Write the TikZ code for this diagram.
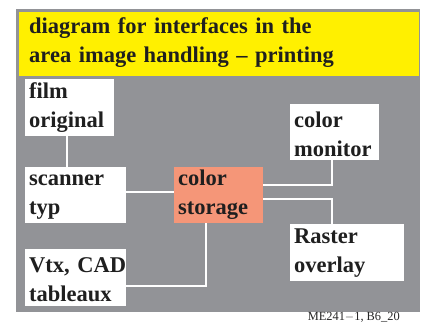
\documentclass[tikz,border=0pt]{standalone}
\usepackage{fontspec}
\setmainfont{Liberation Serif}
\begin{document}
\begin{tikzpicture}[x=1pt,y=-1pt,
  box/.style={draw=none,fill=white,anchor=north west,inner xsep=4pt,inner ysep=0pt,
    align=left,font=\fontsize{22.5}{29}\selectfont\bfseries,text=black!88,
    text height=19pt,text depth=38pt},
  wire/.style={draw=white,line width=1.5pt}]
\useasboundingbox (0,0) rectangle (424,323);
\fill[white] (0,0) rectangle (424,323);
\definecolor{bggray}{RGB}{146,147,151}
\definecolor{ttlyellow}{RGB}{255,240,0}
\definecolor{salmon}{RGB}{245,150,120}
\fill[bggray] (16,9) rectangle (420,312);
\node[fill=ttlyellow,anchor=north west,inner xsep=10pt,inner ysep=0pt,text width=380pt,
  text height=21pt,text depth=43pt,align=left,
  font=\fontsize{22.5}{29}\selectfont\bfseries,text=black!88] (title) at (19,12)
  {diagram for interfaces in the\\area image handling -- printing};
\node[box,text width=81pt] (film) at (25,79) {film\\original};
\node[box,text width=93pt,text height=18pt,text depth=38pt] (scan) at (25,167) {scanner\\typ};
\node[box,text width=93pt,text height=23pt,text depth=34pt] (vtx) at (25,249) {Vtx,~CAD\\tableaux};
\node[box,fill=salmon,text width=81pt,text height=18pt,text depth=38pt] (stor) at (174,167) {color\\storage};
\node[box,text width=81pt,text height=23pt,text depth=33pt] (mon) at (290,104) {color\\monitor};
\node[box,text width=106pt,text height=19pt,text depth=38pt] (rast) at (290,224) {Raster\\overlay};
\coordinate (c1) at (332,185);
\coordinate (c2) at (332,199);
\coordinate (c3) at (206,286);
\draw[wire] (film.south -| 67,0) -- (scan.north -| 67,0);
\draw[wire] (scan.east |- 0,192) -- (stor.west |- 0,192);
\draw[wire] (stor.east |- c1) -- (c1) -- (mon.south -| c1);
\draw[wire] (stor.east |- c2) -- (c2) -- (rast.north -| c2);
\draw[wire] (stor.south -| c3) -- (c3) -- (vtx.east |- c3);
\node[anchor=base east,inner sep=0pt,font=\fontsize{12.4}{14}\selectfont,text=black!85] (foot) at (400,320.5) {ME241$-$1, B6\_20};
\end{tikzpicture}
\end{document}
